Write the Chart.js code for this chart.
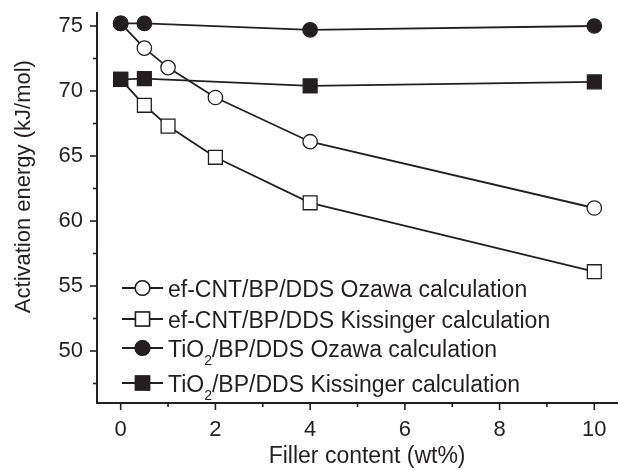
<!DOCTYPE html>
<html><head><meta charset="utf-8">
<script src="https://cdn.jsdelivr.net/npm/chart.js@4"></script>
<style>html,body{margin:0;padding:0;background:#fff;overflow:hidden}canvas{display:block}</style>
</head><body>
<canvas id="c" width="618" height="470"></canvas>
<script>
// ---- data ----
const fillerCNT = [0, 0.5, 1, 2, 4, 10];
const fillerTiO2 = [0, 0.5, 4, 10];
const cntOzawa = [75.2, 73.3, 71.8, 69.5, 66.1, 61.0];
const cntKissinger = [70.9, 68.9, 67.3, 64.9, 61.4, 56.1];
const tio2Ozawa = [75.2, 75.2, 74.7, 75.0];
const tio2Kissinger = [70.9, 70.95, 70.4, 70.7];
const seriesLabels = [
  'ef-CNT/BP/DDS Ozawa calculation',
  'ef-CNT/BP/DDS Kissinger calculation',
  'TiO\u2082/BP/DDS Ozawa calculation',
  'TiO\u2082/BP/DDS Kissinger calculation'
];
const xMajorTicks = [0, 2, 4, 6, 8, 10];
const xMinorTicks = [1, 3, 5, 7, 9];
const yMajorTicks = [50, 55, 60, 65, 70, 75];
const yMinorTicks = [47.5, 52.5, 57.5, 62.5, 67.5, 72.5];
const xTitle = 'Filler content (wt%)';
const yTitle = 'Activation energy (kJ/mol)';

const INK = '#231f20';
const FONT = '"Liberation Sans", Arial, Helvetica, sans-serif';

function pts(xs, ys) { return xs.map((x, i) => ({x: x, y: ys[i]})); }
function ds(label, data, style, filled) {
  return {
    label: label, data: data,
    order: filled ? 0 : 1,
    borderColor: INK, borderWidth: 1.8,
    pointStyle: style,
    pointRadius: style === 'rect' ? 9.8 : 7.2,
    pointHoverRadius: style === 'rect' ? 9.8 : 7.2,
    pointBackgroundColor: filled ? INK : '#ffffff',
    pointBorderColor: INK,
    pointBorderWidth: 1.3,
    tension: 0, clip: false
  };
}

const tickPlugin = {
  id: 'axisTicks',
  afterDraw(chart) {
    const ctx = chart.ctx, xs = chart.scales.x, ys = chart.scales.y;
    const a = chart.chartArea;
    ctx.save();
    ctx.strokeStyle = INK; ctx.lineWidth = 1.6;
    const tick = (v, len, axis) => {
      ctx.beginPath();
      if (axis === 'x') { const p = xs.getPixelForValue(v); ctx.moveTo(p, a.bottom); ctx.lineTo(p, a.bottom + len); }
      else { const p = ys.getPixelForValue(v); ctx.moveTo(a.left, p); ctx.lineTo(a.left - len, p); }
      ctx.stroke();
    };
    xMajorTicks.forEach(v => tick(v, 7, 'x'));
    xMinorTicks.forEach(v => tick(v, 4, 'x'));
    yMajorTicks.forEach(v => tick(v, 7, 'y'));
    yMinorTicks.forEach(v => tick(v, 4, 'y'));
    ctx.restore();
  }
};

const legendPlugin = {
  id: 'insetLegend',
  afterDraw(chart) {
    const ctx = chart.ctx, a = chart.chartArea;
    const rows = [288, 319, 348, 383];
    const x0 = a.left + 25, x1 = a.left + 66, xm = (x0 + x1) / 2, tx = a.left + 71;
    const size = 23;
    ctx.save();
    chart.data.datasets.forEach((d, i) => {
      const y = rows[i];
      ctx.strokeStyle = INK; ctx.lineWidth = 1.8;
      ctx.beginPath(); ctx.moveTo(x0, y); ctx.lineTo(x1, y); ctx.stroke();
      Chart.helpers.drawPoint(ctx, {
        pointStyle: d.pointStyle, radius: d.pointRadius, borderWidth: d.pointBorderWidth, rotation: 0
      }, xm, y);
      ctx.fillStyle = d.pointBackgroundColor; ctx.fill();
      ctx.strokeStyle = INK; ctx.lineWidth = d.pointBorderWidth; ctx.stroke();
      // text with subscript
      ctx.fillStyle = INK;
      ctx.textBaseline = 'alphabetic'; ctx.textAlign = 'left';
      const base = y + 8.5;
      let cx = tx;
      d.label.split('\u2082').forEach((part, k) => {
        if (k > 0) {
          ctx.font = `${Math.round(size * 0.62)}px ${FONT}`;
          ctx.fillText('2', cx, base + 8);
          cx += ctx.measureText('2').width;
        }
        ctx.font = `${size}px ${FONT}`;
        ctx.fillText(part, cx, base);
        cx += ctx.measureText(part).width;
      });
    });
    ctx.restore();
  }
};

new Chart(document.getElementById('c'), {
  type: 'line',
  data: {
    datasets: [
      ds(seriesLabels[0], pts(fillerCNT, cntOzawa), 'circle', false),
      ds(seriesLabels[1], pts(fillerCNT, cntKissinger), 'rect', false),
      ds(seriesLabels[2], pts(fillerTiO2, tio2Ozawa), 'circle', true),
      ds(seriesLabels[3], pts(fillerTiO2, tio2Kissinger), 'rect', true)
    ]
  },
  options: {
    responsive: false, animation: false,
    layout: { autoPadding: false, padding: { top: 13, right: 0, left: 0, bottom: 0 } },
    plugins: { legend: { display: false }, tooltip: { enabled: false } },
    scales: {
      x: {
        type: 'linear', min: -0.5, max: 10.5,
        afterBuildTicks: s => { s.ticks = xMajorTicks.map(v => ({value: v})); },
        afterFit: s => { s.height = 67; s.paddingLeft = 0; s.paddingRight = 0; },
        grid: { display: false, drawTicks: false },
        border: { display: true, color: INK, width: 2 },
        ticks: { color: INK, font: { family: FONT, size: 22 }, padding: 14, maxRotation: 0 },
        title: { display: true, text: '   ' + xTitle, color: INK, font: { family: FONT, size: 23 }, padding: { top: 0, bottom: 0 } }
      },
      y: {
        type: 'linear', min: 46, max: 76,
        afterBuildTicks: s => { s.ticks = yMajorTicks.map(v => ({value: v})); },
        afterFit: s => { s.width = 97; s.paddingTop = 0; s.paddingBottom = 0; },
        grid: { display: false, drawTicks: false },
        border: { display: true, color: INK, width: 2 },
        ticks: { color: INK, font: { family: FONT, size: 22 }, padding: 14 },
        title: { display: true, text: '       ' + yTitle, color: INK, font: { family: FONT, size: 22 }, padding: { top: 11, bottom: 0 } }
      }
    }
  },
  plugins: [tickPlugin, legendPlugin]
});
</script>
</body></html>
